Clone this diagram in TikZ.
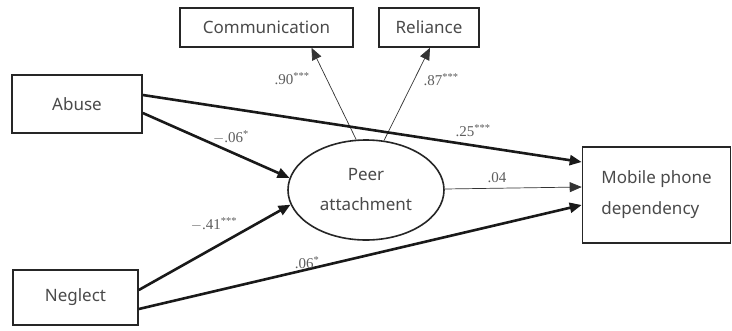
\documentclass[tikz,border=0pt]{standalone}
\usepackage{fontspec}
\setmainfont{Noto Sans}
\newfontfamily\labfont{Liberation Serif}
\usetikzlibrary{shapes.geometric,arrows.meta}
\definecolor{txt}{HTML}{4A4A4A}
\definecolor{lab}{HTML}{5E5E5E}
\tikzset{
  var/.style={draw=black!85, line width=1.6pt, rectangle, inner sep=0pt, text=txt,
    font=\fontsize{17}{31}\selectfont},
  latent/.style={draw=black!85, line width=1.6pt, ellipse, inner sep=0pt, text=txt, align=center,
    minimum width=156pt, minimum height=100pt, font=\fontsize{17}{30}\selectfont},
  tip/.style={-{Triangle[length=12pt,width=10pt]}},
  strong/.style={tip, line width=2.6pt, black!90},
  weak/.style={tip, line width=0.7pt, black!80},
  coef/.style={text=lab, inner sep=0pt, font=\labfont\fontsize{15}{17}\selectfont}
}
\begin{document}
\begin{tikzpicture}[x=1pt,y=-1pt]
\path[fill=white] (0,0) rectangle (732,330);
\useasboundingbox (0,0) rectangle (732,330);

\node[var, minimum width=173pt, minimum height=39pt] (comm) at (266.5,27.5) {Communication};
\node[var, minimum width=100pt, minimum height=39pt] (rel) at (429,27.5) {Reliance};
\node[var, minimum width=130pt, minimum height=58pt] (abuse) at (77,104) {Abuse};
\node[var, minimum width=125pt, minimum height=55pt] (neglect) at (75.5,297.5) {Neglect};
\node[var, minimum width=148pt, minimum height=96pt, align=left] (mobile) at (656.5,195) {Mobile phone\\dependency};
\node[latent] (peer) at (366,190) {Peer\\attachment};

\draw[weak] (peer.101) -- ([xshift=45pt]comm.south);
\draw[weak] (peer.70) -- ([xshift=1pt]rel.south);
\draw[strong] ([yshift=9pt]abuse.east) -- ([yshift=33pt]mobile.west);
\draw[strong] ([yshift=-9pt]abuse.east) -- (peer.171);
\draw[strong] ([yshift=7.5pt]neglect.east) -- (peer.191);
\draw[strong] ([yshift=-11.5pt]neglect.east) -- ([yshift=-10pt]mobile.west);
\draw[weak] ([yshift=1pt]peer.east) -- ([yshift=8pt]mobile.west);

\node[coef] (l1) at (292,79) {.90\textsuperscript{***}};
\node[coef] (l2) at (441,80) {.87\textsuperscript{***}};
\node[coef] (l3) at (231,137) {$-$.06\textsuperscript{*}};
\node[coef] (l4) at (473,131) {.25\textsuperscript{***}};
\node[coef] (l5) at (497,178) {.04};
\node[coef] (l6) at (214,224) {$-$.41\textsuperscript{***}};
\node[coef] (l7) at (307,263) {.06\textsuperscript{*}};
\end{tikzpicture}
\end{document}
